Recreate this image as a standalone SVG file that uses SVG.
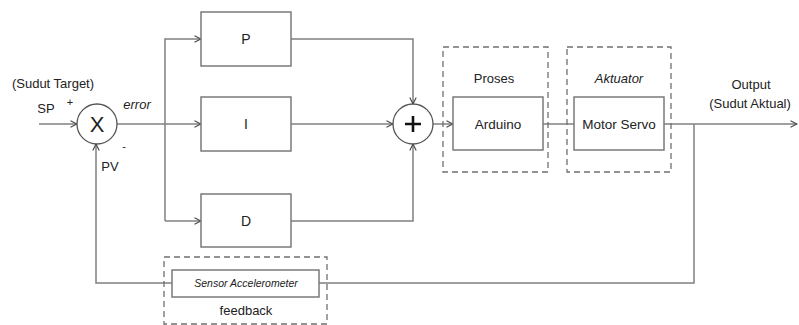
<svg xmlns="http://www.w3.org/2000/svg" width="799" height="325" viewBox="0 0 799 325">
<defs>
<style>
.ln{fill:none;stroke:#808080;stroke-width:1.5}
.box{fill:#fff;stroke:#7a7a7a;stroke-width:1.5}
.dash{fill:none;stroke:#707070;stroke-width:1.3;stroke-dasharray:6,4}
.t{font-family:"Liberation Sans",Arial,sans-serif;font-size:13px;fill:#222;text-anchor:middle}
.it{font-style:italic}
</style>
<marker id="ar" viewBox="0 0 8 8" refX="7.5" refY="4" markerWidth="8" markerHeight="8" markerUnits="userSpaceOnUse" orient="auto">
<path d="M1,0.8 L7.5,4 L1,7.2" fill="none" stroke="#444" stroke-width="1.1"/>
</marker>
</defs>
<rect width="799" height="325" fill="#fff"/>
<g id="connectors">
<path class="ln" d="M39,124 H77" marker-end="url(#ar)"/>
<path class="ln" d="M117,124 H201" marker-end="url(#ar)"/>
<path class="ln" d="M165,221 V39 H201" marker-end="url(#ar)"/>
<path class="ln" d="M165,221 H201" marker-end="url(#ar)"/>
<path class="ln" d="M291,39 H413 V104" marker-end="url(#ar)"/>
<path class="ln" d="M291,124 H393" marker-end="url(#ar)"/>
<path class="ln" d="M291,221 H413 V144" marker-end="url(#ar)"/>
<path class="ln" d="M433,124 H453" marker-end="url(#ar)"/>
<path class="ln" d="M543,124 H574"/>
<path class="ln" d="M664,124 H797" marker-end="url(#ar)"/>
<path class="ln" d="M694,124 V283 H319"/>
<path class="ln" d="M172,283 H96 V144" marker-end="url(#ar)"/>
</g>
<g id="labels">
<text class="t" x="53" y="88">(Sudut Target)</text>
<text class="t" x="46" y="113">SP</text>
<text class="t" x="70" y="106" style="font-size:11px">+</text>
<text class="t it" x="137" y="109">error</text>
<text class="t" x="124" y="150" style="font-size:11px">-</text>
<text class="t" x="110" y="171">PV</text>
<text class="t" x="751" y="89">Output</text>
<text class="t" x="750" y="108">(Sudut Aktual)</text>
</g>
<g id="sumX">
<circle cx="97" cy="124" r="20" fill="#fff" stroke="#555" stroke-width="1.3"/>
<text class="t" x="97" y="132" style="font-size:22px">X</text>
</g>
<g id="P">
<rect class="box" x="201" y="12" width="90" height="54"/>
<text class="t" x="246" y="44" style="font-size:14px">P</text>
</g>
<g id="I">
<rect class="box" x="201" y="97" width="90" height="54"/>
<text class="t" x="246" y="129" style="font-size:14px">I</text>
</g>
<g id="D">
<rect class="box" x="201" y="194" width="90" height="53"/>
<text class="t" x="246" y="226" style="font-size:14px">D</text>
</g>
<g id="sumPlus">
<circle cx="413" cy="124" r="20" fill="#fff" stroke="#555" stroke-width="1.3"/>
<path d="M405,124 H421 M413,116 V132" stroke="#111" stroke-width="2.6"/>
</g>
<g id="proses">
<rect class="dash" x="443" y="47" width="105" height="125"/>
<text class="t" x="494" y="83">Proses</text>
<rect class="box" x="453" y="97" width="90" height="53"/>
<text class="t" x="498" y="129" style="font-size:13.5px">Arduino</text>
</g>
<g id="aktuator">
<rect class="dash" x="567" y="47" width="104" height="125"/>
<text class="t it" x="619" y="83">Aktuator</text>
<rect class="box" x="574" y="97" width="90" height="53"/>
<text class="t" x="619" y="129" style="font-size:13.5px">Motor Servo</text>
</g>
<g id="feedback">
<rect class="dash" x="164" y="257" width="163" height="67"/>
<rect class="box" x="172" y="270" width="147" height="27"/>
<text class="t it" x="246" y="287" style="font-size:10.5px">Sensor Accelerometer</text>
<text class="t" x="246" y="315">feedback</text>
</g>
</svg>
